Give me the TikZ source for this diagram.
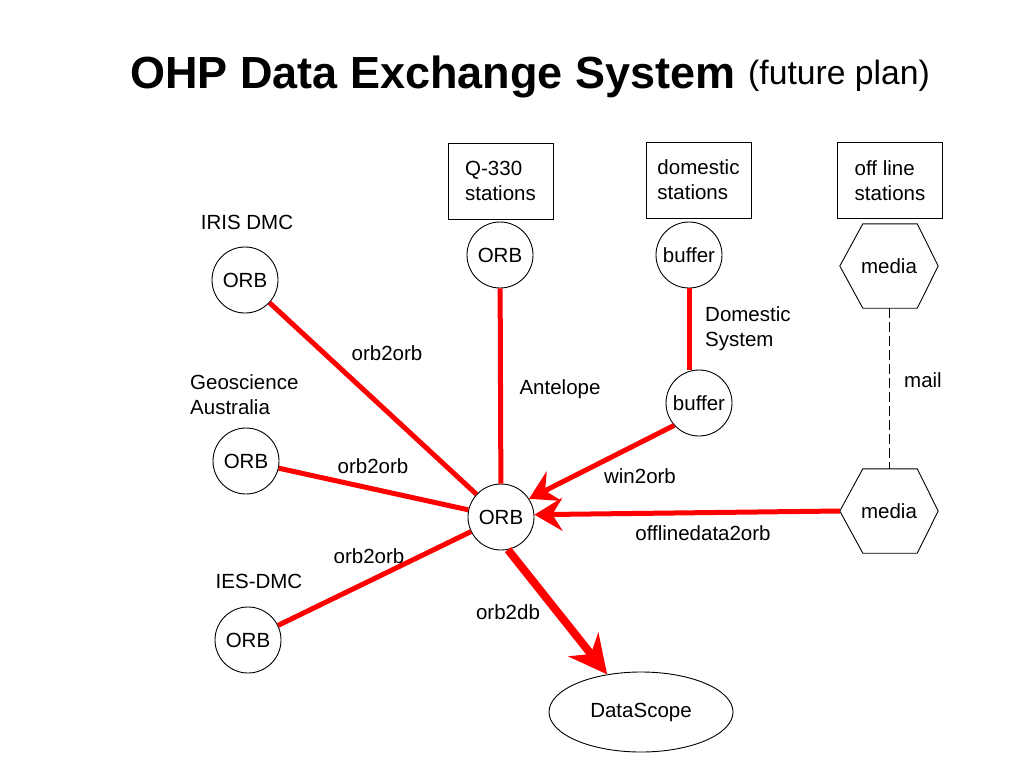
\documentclass[tikz,border=0pt]{standalone}
\usepackage{fontspec}
\setmainfont{Liberation Sans}
\usetikzlibrary{arrows.meta,shapes.geometric}
\begin{document}
\begin{tikzpicture}[x=1pt,y=-1pt,
  txt/.style={font=\fontsize{20.5}{25}\selectfont, inner sep=0pt, align=left},
  orbc/.style={circle, draw, line width=0.9pt, minimum size=66pt, inner sep=0pt, font=\fontsize{20.5}{25}\selectfont},
  stbox/.style={draw, line width=0.9pt, minimum width=105pt, minimum height=76pt, inner sep=0pt, align=left, font=\fontsize{20.5}{25}\selectfont},
  hexbox/.style={minimum width=98pt, minimum height=84pt, inner sep=0pt, font=\fontsize{20.5}{25}\selectfont},
  link/.style={draw=red, line width=5pt},
  arr/.style={link, -{Stealth[length=28pt,width=33pt,inset=10pt]}},
  bigarr/.style={draw=red, line width=8pt, -{Stealth[length=38pt,width=38pt,inset=12pt]}},
]
\useasboundingbox (0,0) rectangle (1024,768);

% title
\node[anchor=base west, inner sep=0pt, font=\fontsize{45}{50}\selectfont\bfseries] (title) at (130,88) {OHP Data Exchange System};
\node[anchor=base west, inner sep=0pt, font=\fontsize{33.7}{38}\selectfont] (sub) at (748,84) {(future plan)};

% circles
\node[orbc] (orb) at (501,517) {ORB};
\node[orbc] (iris) at (245,280) {ORB};
\node[orbc] (geo) at (246,461) {ORB};
\node[orbc] (ies) at (248,640) {ORB};
\node[orbc] (q) at (500,255) {ORB};
\node[orbc] (buf1) at (689,255) {buffer};
\node[orbc] (buf2) at (699,403) {buffer};

% boxes
\node[stbox] (qbox) at (500.5,181) {Q-330\\stations};
\node[stbox] (dbox) at (698.5,180) {domestic\\stations};
\node[stbox] (obox) at (890,180.5) {off line\\stations};

% hexagons
\node[hexbox] (media1) at (889,266) {media};
\node[hexbox] (media2) at (889,511) {media};
\foreach \h in {media1,media2}{
  \draw[line width=0.9pt] (\h.west) -- ([xshift=23pt]\h.north west) -- ([xshift=-21pt]\h.north east)
    -- (\h.east) -- ([xshift=-21pt]\h.south east) -- ([xshift=23pt]\h.south west) -- cycle;
}

% DataScope
\node[ellipse, draw, line width=0.9pt, minimum width=184pt, minimum height=80pt, inner sep=0pt, font=\fontsize{20.5}{25}\selectfont] (ds) at (641,712) {DataScope};

% labels
\node[txt] (lIris) at (247,222) {IRIS DMC};
\node[txt, anchor=west] (lGeo) at (190,394.5) {Geoscience\\Australia};
\node[txt] (lIes) at (259,581) {IES-DMC};

% connectors
\draw[link] (iris) -- (orb);
\draw[link] (geo) -- (orb);
\draw[link] (ies) -- (orb);
\draw[link] (q) -- (orb);
\draw[link] (buf1.south) -- (buf2.north -| buf1.south);
\draw[arr] (buf2.222) -- (orb.33);
\draw[arr] (media2.west) -- (orb.4);
\draw[bigarr] (orb.-78) -- (ds.132);
\draw[line width=0.9pt, dash pattern=on 10pt off 4pt] (media1.south) -- (media2.north);

\node[txt] (l1) at (387,353) {orb2orb};
\node[txt] (l2) at (373,466) {orb2orb};
\node[txt] (l3) at (369,556) {orb2orb};
\node[txt] (lAnt) at (560,389) {Antelope};
\node[txt, anchor=west] (lDom) at (705,328.5) {Domestic\\System};
\node[txt] (lWin) at (640,476) {win2orb};
\node[txt] (lOff) at (703,533) {offlinedata2orb};
\node[txt] (lDb) at (508,612) {orb2db};
\node[txt] (lMail) at (923,380) {mail};
\end{tikzpicture}
\end{document}
